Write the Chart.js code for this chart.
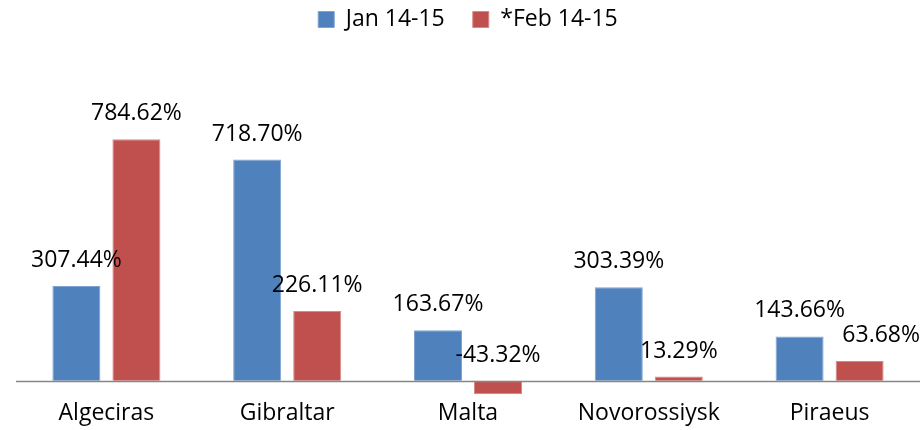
<!DOCTYPE html>
<html>
<head>
<meta charset="utf-8">
<script src="https://cdn.jsdelivr.net/npm/chart.js@4.4.1/dist/chart.umd.min.js"></script>
<style>
  html, body { margin: 0; padding: 0; background: #fff; }
  #wrap { width: 922px; height: 430px; }
</style>
</head>
<body>
<div id="wrap"><canvas id="myChart"></canvas></div>
<script>
const ports = ['Algeciras', 'Gibraltar', 'Malta', 'Novorossiysk', 'Piraeus'];
const jan1415 = [307.44, 718.70, 163.67, 303.39, 143.66];
const feb1415 = [784.62, 226.11, -43.32, 13.29, 63.68];

const FONT = '"Open Sans", "Liberation Sans", sans-serif';

// zero line across the plot, like the excel category axis
const zeroLine = {
    id: 'zeroLine',
    afterDatasetsDraw(chart) {
        const { ctx, chartArea, scales } = chart;
        const y = Math.round(scales.y.getPixelForValue(0)) + 0.5;
        ctx.save();
        ctx.strokeStyle = '#868686';
        ctx.lineWidth = 1.5;
        ctx.beginPath();
        ctx.moveTo(chartArea.left, y);
        ctx.lineTo(chartArea.right, y);
        ctx.stroke();
        ctx.restore();
    }
};

// value labels above each bar, nudged right when they would collide
const valueLabels = {
    id: 'valueLabels',
    afterDatasetsDraw(chart) {
        const { ctx, scales } = chart;
        const zero = scales.y.getPixelForValue(0);
        const right = chart.width - 2;
        ctx.save();
        ctx.font = '23px ' + FONT;
        ctx.fillStyle = '#000';
        ctx.textAlign = 'center';
        ctx.textBaseline = 'alphabetic';
        const prev = {};
        chart.data.datasets.forEach((ds, i) => {
            chart.getDatasetMeta(i).data.forEach((bar, j) => {
                const v = ds.data[j];
                const text = v.toFixed(2) + '%';
                const w = ctx.measureText(text).width;
                const y = (v >= 0 ? bar.y : zero) - 19;
                let x = bar.x;
                const p = prev[j];
                if (p && Math.abs(p.y - y) < 30 && x - w / 2 < p.r + 4) {
                    x = p.r + 4 + w / 2;
                }
                if (x + w / 2 > right) x = right - w / 2;
                ctx.fillText(text, x, y);
                prev[j] = { r: x + w / 2, y: y };
            });
        });
        ctx.restore();
    }
};

new Chart(document.getElementById('myChart'), {
    type: 'bar',
    data: {
        labels: ports,
        datasets: [{
            label: 'Jan 14-15',
            data: jan1415,
            backgroundColor: '#4F81BD',
            borderColor: '#7FA3D0',
            borderWidth: 1,
            clip: false
        }, {
            label: '*Feb 14-15',
            data: feb1415,
            backgroundColor: '#C0504D',
            borderColor: '#D68A88',
            borderWidth: 1,
            clip: false
        }]
    },
    options: {
        responsive: true,
        maintainAspectRatio: false,
        animation: false,
        categoryPercentage: 0.664,
        barPercentage: 0.8,
        layout: { padding: { left: 16, right: 2, top: -20, bottom: -5 } },
        scales: {
            x: {
                grid: { display: false, drawTicks: false },
                border: { display: false },
                ticks: { color: '#000', font: { family: FONT, size: 23 }, padding: 8, maxRotation: 0 }
            },
            y: {
                display: false,
                min: -35,
                max: 1104
            }
        },
        plugins: {
            legend: {
                position: 'top',
                labels: {
                    color: '#000',
                    font: { family: FONT, size: 23 },
                    boxWidth: 16,
                    boxHeight: 16,
                    padding: 28
                }
            },
            tooltip: { enabled: false }
        }
    },
    plugins: [zeroLine, valueLabels]
});
</script>
</body>
</html>
